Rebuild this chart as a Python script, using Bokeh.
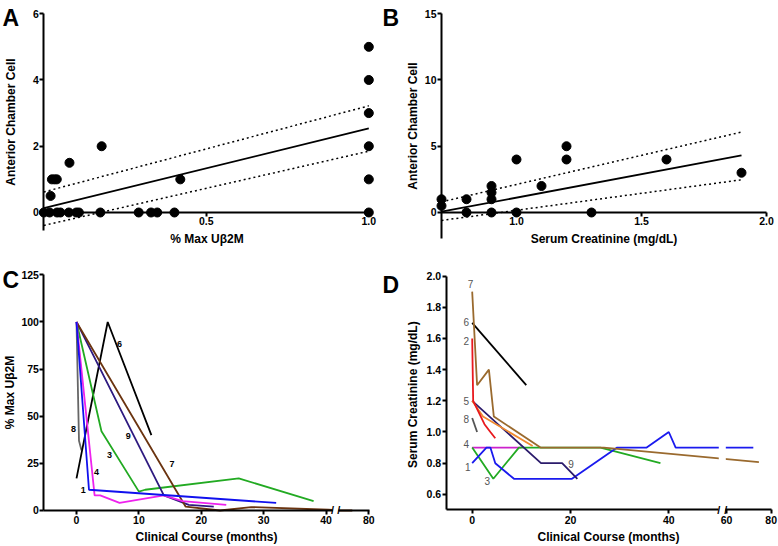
from bokeh.plotting import figure
from bokeh.models import (Range1d, FixedTicker, NumeralTickFormatter, Label, LinearAxis,
                          ColumnDataSource, CustomJSTransform, CustomJSTickFormatter)
from bokeh.transform import transform
from bokeh.layouts import row, column
from bokeh.embed import file_html
from bokeh.resources import INLINE
from bokeh.core.properties import value

FONT = "Liberation Sans"

# ---------------- Panel A : % Max Ub2M vs anterior chamber cell ----------------
a_x = [0.0, 0.018, 0.041, 0.051, 0.077, 0.100, 0.108, 0.174, 0.292, 0.330, 0.349, 0.402, 1.0,
       0.021, 0.025, 0.033, 0.040, 0.079, 0.178, 0.420, 1.0, 1.0, 1.0, 1.0, 1.0]
a_y = [0, 0, 0, 0, 0, 0, 0, 0, 0, 0, 0, 0, 0,
       0.5, 1, 1, 1, 1.5, 2, 1, 5, 4, 3, 2, 1]
a_fit_x = [0.0, 1.0]
a_fit_y = [0.13, 2.54]
a_hi_y = [0.62, 3.22]
a_lo_y = [-0.39, 1.85]
a_xticks = [0.5, 1.0]
a_yticks = [0, 2, 4, 6]

# ---------------- Panel B : serum creatinine vs anterior chamber cell ----------------
b_x = [0.7, 0.7, 0.8, 0.8, 0.9, 0.9, 0.9, 0.9, 1.0, 1.0, 1.1, 1.2, 1.2, 1.3, 1.6, 1.9]
b_y = [1, 0.5, 1, 0, 2, 1.5, 1, 0, 4, 0, 2, 5, 4, 0, 4, 3]
b_fit_x = [0.7, 1.9]
b_fit_y = [0.06, 4.31]
b_hi_y = [0.80, 6.07]
b_lo_y = [-0.60, 2.47]
b_xticks = [1.0, 1.5, 2.0]
b_yticks = [0, 5, 10, 15]

# ---------------- Panel C : % Max Ub2M over clinical course ----------------
c1_x = [0, 2, 32];                        c1_y = [100, 11, 4]
c4_x = [0, 2.9, 3.8, 6.9, 14, 17, 24];    c4_y = [100, 8, 8, 4, 8, 5, 3]
c3_x = [0, 4, 10, 11, 26, 38];            c3_y = [100, 42, 10, 11, 17, 5]
c9_x = [0, 14, 18, 22];                   c9_y = [100, 8, 3, 2]
c7_x = [0, 17.5, 23, 28, 40.4, 60, 69];   c7_y = [100, 2, 0, 1.8, 0.4, 0, 0]
c6_x = [0, 5, 12];                        c6_y = [17, 100, 40]
c8_x = [0, 0.4, 0.8];                     c8_y = [100, 37, 32]
c_lab_x = [1.1, 3.2, 5.3, 8.3, 15.3, 6.9, -0.5]
c_lab_y = [11.1, 20.3, 29.2, 39.4, 24.4, 88.4, 43.3]
c_lab_t = ["1", "4", "3", "9", "7", "6", "8"]
c_xticks_left = [0, 10, 20, 30, 40]
c_xticks_right = [80]
c_yticks = [0, 25, 50, 75, 100, 125]

# ---------------- Panel D : serum creatinine over clinical course ----------------
d7_x = [0, 1, 3.4, 4.4, 13.9, 26.8, 74.5]
d7_y = [1.9, 1.3, 1.4, 1.1, 0.9, 0.9, 0.807]
d6_x = [0, 11];                      d6_y = [1.7, 1.3]
d2_x = [0, 0.2, 2.5, 3.7, 4.7];      d2_y = [1.6, 1.2, 1.05, 1.0, 0.96]
d5_x = [0, 2.2, 12.3];               d5_y = [1.2, 1.1, 0.91]
d9_x = [0, 14, 18.3, 21.4];          d9_y = [1.2, 0.8, 0.8, 0.7]
d8_x = [0, 1.0];                     d8_y = [1.09, 1.0]
d4_x = [0, 10];                      d4_y = [0.9, 0.9]
d3_x = [0, 4.3, 9.5, 26.1, 38.3];    d3_y = [0.9, 0.7, 0.9, 0.9, 0.8]
d1_x = [0, 2.9, 3.7, 4.7, 8.5, 20.3, 29.5, 35.5, 40, 41.4, 72]
d1_y = [0.8, 0.9, 0.9, 0.8, 0.7, 0.7, 0.9, 0.9, 1.0, 0.9, 0.9]
d_lab_x = [-0.35, -1.2, -1.2, -1.2, -1.2, -1.2, -0.9, 3.05, 20.1]
d_lab_y = [1.95, 1.704, 1.585, 1.2, 1.086, 0.926, 0.777, 0.685, 0.798]
d_lab_t = ["7", "6", "2", "5", "8", "4", "1", "3", "9"]
d_xticks_left = [0, 20, 40]
d_xticks_right = [60, 80]
d_yticks = [0.6, 0.8, 1.0, 1.2, 1.4, 1.6, 1.8, 2.0]

# ---------------- broken x axes (left segment linear, right segment compressed) ----------------
C_BRK, C_RS, C_K = 41.03, 42.04, 0.24      # C: gap after 41, 60..80 squeezed
D_BRK, D_RS, D_K = 50.17, 51.74, 0.4547    # D: gap after 50, 60..80 squeezed


def seg_pos(v, brk, rs, k):
    return v if v <= brk else rs + k * (v - 60)


def js_tf(brk, rs, k):
    return CustomJSTransform(v_func=(
        "const out = new Array(xs.length);"
        "for (let i = 0; i < xs.length; i++) { const v = xs[i];"
        f" out[i] = v <= {brk} ? v : {rs} + {k} * (v - 60); }}"
        "return out;"))


def js_fmt(rs, k):
    return CustomJSTickFormatter(code=f"return String(Math.round(60 + (tick - {rs}) / {k}));")


def style_axis(ax, label_std=3):
    ax.axis_line_width = 2
    ax.axis_line_color = "black"
    ax.major_tick_line_width = 2
    ax.major_tick_line_color = "black"
    ax.major_tick_out = 4
    ax.major_tick_in = 0
    ax.minor_tick_line_color = None
    ax.major_label_text_font = FONT
    ax.major_label_text_font_style = "bold"
    ax.major_label_text_font_size = "10.5px"
    ax.major_label_text_color = "black"
    ax.major_label_standoff = 1
    ax.axis_label_text_font = FONT
    ax.axis_label_text_font_style = "bold"
    ax.axis_label_text_font_size = "12px"
    ax.axis_label_text_color = "black"
    ax.axis_label_standoff = label_std


def mkfig(w, h, xr, yr):
    p = figure(width=w, height=h, x_range=Range1d(*xr), y_range=Range1d(*yr),
               output_backend="svg", toolbar_location=None, tools="",
               min_border_left=0, min_border_right=0, min_border_top=0, min_border_bottom=0)
    p.outline_line_color = None
    p.xgrid.visible = False
    p.ygrid.visible = False
    p.background_fill_color = "white"
    p.border_fill_color = "white"
    for ax in p.axis:
        style_axis(ax)
    return p


def label(p, txt, x, y, size, align="center", base="middle", bold=True, color="black"):
    p.add_layout(Label(x=x, y=y, text=txt, text_font=FONT,
                       text_font_style="bold" if bold else "normal", text_font_size=size,
                       text_align=align, text_baseline=base, text_color=color))


DOT = "2 3"

# ---------------- A ----------------
pA = mkfig(400, 250, (-0.1332, 1.0975), (-1.147, 6.399))
pA.xaxis.fixed_location = 0
pA.xaxis.bounds = (0, 1.005)
pA.yaxis.fixed_location = 0
pA.yaxis.bounds = (-0.55, 6)
pA.xaxis.ticker = FixedTicker(ticks=a_xticks)
pA.xaxis.formatter = NumeralTickFormatter(format="0.0")
pA.yaxis.ticker = FixedTicker(ticks=a_yticks)
pA.xaxis.axis_label = "% Max Uβ2M"
pA.yaxis.axis_label = "Anterior Chamber Cell"
pA.xaxis.axis_label_standoff = 3
pA.yaxis.axis_label_standoff = 12
pA.line(a_fit_x, a_fit_y, line_color="black", line_width=1.8)
pA.line(a_fit_x, a_hi_y, line_color="black", line_width=1.5, line_dash=DOT)
pA.line(a_fit_x, a_lo_y, line_color="black", line_width=1.5, line_dash=DOT)
pA.scatter(a_x, a_y, size=9, fill_color="black", line_color="black")
label(pA, "A", -0.127, 5.856, "23px", align="left", base="alphabetic")
label(pA, "B", 1.042, 5.856, "23px", align="left", base="alphabetic")

# ---------------- B ----------------
pB = mkfig(378, 250, (0.536, 2.048), (-2.868, 16.0))
pB.xaxis.fixed_location = 0
pB.xaxis.bounds = (0.7, 2.0)
pB.yaxis.fixed_location = 0.7
pB.yaxis.bounds = (-2, 15)
pB.xaxis.ticker = FixedTicker(ticks=b_xticks)
pB.xaxis.formatter = NumeralTickFormatter(format="0.0")
pB.yaxis.ticker = FixedTicker(ticks=b_yticks)
pB.xaxis.axis_label = "Serum Creatinine (mg/dL)"
pB.yaxis.axis_label = "Anterior Chamber Cell"
pB.xaxis.axis_label_standoff = 3
pB.yaxis.axis_label_standoff = 2
pB.line(b_fit_x, b_fit_y, line_color="black", line_width=1.8)
pB.line(b_fit_x, b_hi_y, line_color="black", line_width=1.5, line_dash=DOT)
pB.line(b_fit_x, b_lo_y, line_color="black", line_width=1.5, line_dash=DOT)
pB.scatter(b_x, b_y, size=9, fill_color="black", line_color="black")

# ---------------- C ----------------
c_series = [
    (c8_x, c8_y, "#666666"),
    (c6_x, c6_y, "#000000"),
    (c3_x, c3_y, "#22aa22"),
    (c9_x, c9_y, "#2e1a80"),
    (c7_x, c7_y, "#6b3410"),
    (c4_x, c4_y, "#ee22ee"),
    (c1_x, c1_y, "#1010ee"),
]
pC = mkfig(378, 296, (-12.18, 48.40), (-19.1, 137.9))
tf_c = js_tf(C_BRK, C_RS, C_K)
for xs, ys, col in c_series:
    pC.line(x=transform("x", tf_c), y="y", source=ColumnDataSource(dict(x=xs, y=ys)),
            line_color=col, line_width=1.8)
pC.quad(left=[C_BRK], right=[C_RS], bottom=[-3], top=[127], fill_color="white", line_color=None)
pC.xaxis.fixed_location = 0
pC.xaxis.bounds = (-5.22, C_BRK)
pC.xaxis.ticker = FixedTicker(ticks=c_xticks_left)
pC.xaxis.major_label_standoff = 2
pC.yaxis.fixed_location = -5.22
pC.yaxis.bounds = (0, 125)
pC.yaxis.ticker = FixedTicker(ticks=c_yticks)
pC.yaxis.axis_label = "% Max Uβ2M"
pC.yaxis.axis_label_standoff = 1
axC2 = LinearAxis(fixed_location=0, bounds=(C_RS, seg_pos(80.3, C_BRK, C_RS, C_K)),
                  ticker=FixedTicker(ticks=[seg_pos(v, C_BRK, C_RS, C_K) for v in c_xticks_right]),
                  formatter=js_fmt(C_RS, C_K))
style_axis(axC2)
axC2.major_label_standoff = 2
pC.add_layout(axC2, "below")
pC.text(x=c_lab_x, y=c_lab_y, text=c_lab_t, text_font=value(FONT), text_font_style="bold",
        text_font_size="9px", text_align="center", text_baseline="middle", text_color="black")
label(pC, "Clinical Course (months)", 20.83, -14.3, "12px")
label(pC, "C", -11.86, 122.0, "23px", align="left", base="alphabetic")
label(pC, "/", C_BRK, 0, "11px")
label(pC, "/", C_RS, 0, "11px")

# ---------------- D ----------------
d_series = [
    (d4_x, d4_y, "#cc22cc"),
    (d3_x, d3_y, "#22aa22"),
    (d1_x, d1_y, "#1a1aee"),
    (d9_x, d9_y, "#2b1b6b"),
    (d5_x, d5_y, "#f08a30"),
    (d2_x, d2_y, "#e8191e"),
    (d8_x, d8_y, "#555555"),
    (d6_x, d6_y, "#000000"),
    (d7_x, d7_y, "#9a6a2e"),
]
pD = mkfig(400, 296, (-19.06, 62.32), (0.266, 2.1635))
tf_d = js_tf(D_BRK, D_RS, D_K)
for xs, ys, col in d_series:
    pD.line(x=transform("x", tf_d), y="y", source=ColumnDataSource(dict(x=xs, y=ys)),
            line_color=col, line_width=1.8)
pD.quad(left=[D_BRK], right=[51.6], bottom=[0.48], top=[2.05], fill_color="white", line_color=None)
pD.xaxis.fixed_location = 0.5
pD.xaxis.bounds = (-5.29, D_BRK)
pD.xaxis.ticker = FixedTicker(ticks=d_xticks_left)
pD.xaxis.major_label_standoff = 2
pD.yaxis.fixed_location = -5.29
pD.yaxis.bounds = (0.5, 2.0)
pD.yaxis.ticker = FixedTicker(ticks=d_yticks)
pD.yaxis.formatter = NumeralTickFormatter(format="0.0")
pD.yaxis.axis_label = "Serum Creatinine  (mg/dL)"
pD.yaxis.axis_label_standoff = 4
axD2 = LinearAxis(fixed_location=0.5, bounds=(51.6, seg_pos(80.0, D_BRK, D_RS, D_K)),
                  ticker=FixedTicker(ticks=[seg_pos(v, D_BRK, D_RS, D_K) for v in d_xticks_right]),
                  formatter=js_fmt(D_RS, D_K))
style_axis(axD2)
axD2.major_label_standoff = 2
pD.add_layout(axD2, "below")
pD.text(x=d_lab_x, y=d_lab_y, text=d_lab_t, text_font=value(FONT),
        text_font_size="10px", text_align="center", text_baseline="middle", text_color="#555555")
label(pD, "Clinical Course (months)", 27.73, 0.3237, "12px")
label(pD, "D", -18.25, 1.9423, "23px", align="left", base="alphabetic")
label(pD, "/", D_BRK, 0.5, "11px")
label(pD, "/", 51.6, 0.5, "11px")

layout = column(row(pA, pB), row(pC, pD))
open("out.html", "w").write(file_html(layout, INLINE))
